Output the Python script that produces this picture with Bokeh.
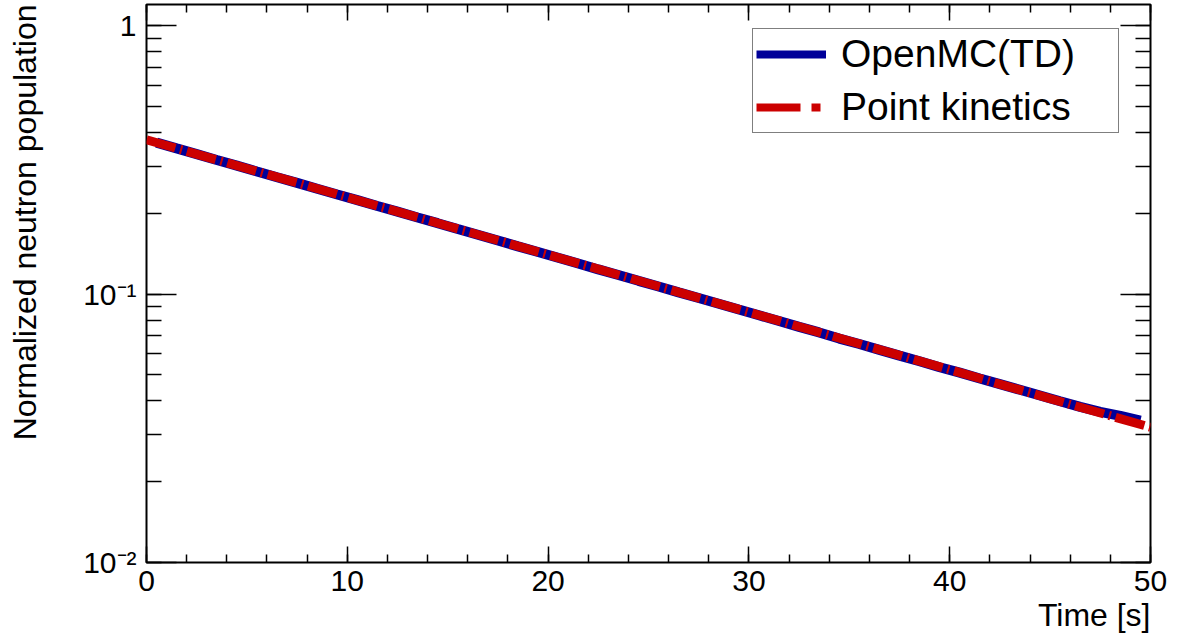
from bokeh.plotting import figure
from bokeh.models import (Range1d, LinearAxis, LogAxis, SingleIntervalTicker, LogTicker,
                          Title, Legend, LegendItem)
from bokeh.embed import file_html
from bokeh.resources import INLINE

# ---- data ----
# OpenMC(TD): values at 1 s bin centres
td_time = [t + 0.5 for t in range(0, 50)]
td_values = [0.3668, 0.3491, 0.3325, 0.3160, 0.3012, 0.2865, 0.2726, 0.2597, 0.2470, 0.2352,
             0.2240, 0.2129, 0.2029, 0.1930, 0.1838, 0.1748, 0.1665, 0.1584, 0.1507, 0.1436,
             0.1366, 0.1301, 0.1236, 0.1178, 0.1121, 0.1068, 0.1015, 0.0967, 0.0921, 0.0876,
             0.0834, 0.0794, 0.0755, 0.0720, 0.0683, 0.0652, 0.0620, 0.0590, 0.0562, 0.0534,
             0.0510, 0.0485, 0.0462, 0.0440, 0.0419, 0.0399, 0.0380, 0.0364, 0.0352, 0.0338]
# Point kinetics
pk_time = [0, 5, 10, 15, 20, 25, 30, 35, 40, 45, 50]
pk_values = [0.376, 0.2938, 0.2296, 0.1794, 0.1402, 0.1095, 0.0856, 0.0669, 0.0523, 0.0408, 0.0319]

y_tick_labels = {0.01: "10\u207b\u00b2", 0.1: "10\u207b\u00b9", 1: "1"}

FONT = "Liberation Sans"
BLUE = "#000099"
RED = "#cc0000"

p = figure(width=1180, height=635, y_axis_type="log",
           x_range=Range1d(0, 50), y_range=Range1d(0.01, 1.2),
           output_backend="svg", toolbar_location=None,
           min_border_left=146, min_border_right=30, min_border_top=4, min_border_bottom=73)
p.background_fill_color = "white"
p.border_fill_color = "white"
p.outline_line_color = "black"
p.outline_line_width = 2
p.xgrid.visible = False
p.ygrid.visible = False

p.line(x=td_time, y=td_values, line_color=BLUE, line_width=10)
p.line(x=pk_time, y=pk_values, line_color=RED, line_width=9, line_dash="30 5 2 5")

# ---- axes ----
xticker = SingleIntervalTicker(interval=10, num_minor_ticks=5)
yticker = LogTicker(num_minor_ticks=10)

def style_axis(ax, major_in, minor_in, labels=True):
    ax.major_tick_in = major_in
    ax.major_tick_out = 0
    ax.minor_tick_in = minor_in
    ax.minor_tick_out = 0
    ax.major_tick_line_color = "black"
    ax.minor_tick_line_color = "black"
    ax.major_tick_line_width = 1.5
    ax.minor_tick_line_width = 1.5
    ax.axis_line_color = None
    if labels:
        ax.major_label_text_font = FONT
        ax.major_label_text_font_size = "30px"
        ax.major_label_text_color = "black"
        ax.major_label_standoff = 8
    else:
        ax.major_label_text_font_size = "1px"
        ax.major_label_text_alpha = 0
        ax.major_label_standoff = 0

xa = p.xaxis[0]
xa.ticker = xticker
style_axis(xa, 16, 8)
ya = p.yaxis[0]
ya.ticker = yticker
ya.major_label_overrides = y_tick_labels
style_axis(ya, 30, 15)
ya.major_label_standoff = 10
# invisible spacer label so the title sits at the far left, as in ROOT
ya.axis_label = "."
ya.axis_label_text_font_size = "1px"
ya.axis_label_text_alpha = 0
ya.axis_label_standoff = 32

top = LinearAxis(ticker=xticker)
style_axis(top, 16, 8, labels=False)
p.add_layout(top, "above")
right = LogAxis(ticker=yticker)
style_axis(right, 30, 15, labels=False)
p.add_layout(right, "right")

# ---- axis titles (ROOT style, aligned to the end of the axis) ----
p.add_layout(Title(text="Time [s]", align="right", text_font=FONT, text_font_size="32px",
                   text_font_style="normal", text_color="black", standoff=2), "below")
p.add_layout(Title(text="Normalized neutron population", align="right", text_font=FONT,
                   text_font_size="32px", text_font_style="normal", text_color="black",
                   standoff=4), "left")

# ---- legend ----
leg_blue = p.line(x=[1.0], y=[1.0], line_color=BLUE, line_width=8, visible=False)
leg_red = p.line(x=[1.0], y=[1.0], line_color=RED, line_width=8, line_dash="44 11 9 11", visible=False)
legend = Legend(items=[LegendItem(label="OpenMC(TD)", renderers=[leg_blue]),
                       LegendItem(label="Point kinetics", renderers=[leg_red])],
                location=(606, 429))
legend.label_text_font = FONT
legend.label_text_font_size = "39px"
legend.label_text_color = "black"
legend.glyph_width = 70
legend.glyph_height = 40
legend.label_height = 40
legend.label_width = 274
legend.label_standoff = 15
legend.padding = 3
legend.spacing = 9
legend.margin = 0
legend.border_line_color = "black"
legend.border_line_width = 1.5
legend.background_fill_color = "white"
legend.background_fill_alpha = 1
p.add_layout(legend)

open("out.html", "w").write(file_html(p, INLINE))
